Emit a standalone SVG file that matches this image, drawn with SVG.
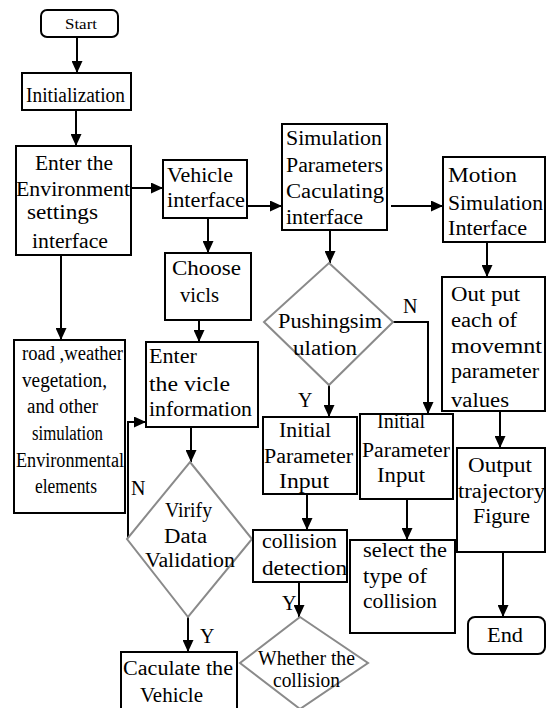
<svg xmlns="http://www.w3.org/2000/svg" width="546" height="708" viewBox="0 0 546 708">
<style>
.b{fill:#fff;stroke:#000;stroke-width:2}
.d{fill:#fff;stroke:#8a8a8a;stroke-width:2}
.c{fill:none;stroke:#000;stroke-width:2}
text{font-family:"Liberation Serif","Times New Roman",serif;font-size:20px;fill:#000}
.s{font-size:14px}
</style>
<defs>
<marker id="ah" markerUnits="userSpaceOnUse" markerWidth="12" markerHeight="11" refX="12" refY="5.5" orient="auto">
<path d="M0,0 L12,5.5 L0,11 z" fill="#000"/>
</marker>
</defs>
<rect width="546" height="708" fill="#fff"/>
<g id="connectors">
<line class="c" x1="77" y1="37" x2="77" y2="73" marker-end="url(#ah)"/>
<line class="c" x1="76" y1="110" x2="76" y2="146" marker-end="url(#ah)"/>
<line class="c" x1="131" y1="188" x2="163" y2="188" marker-end="url(#ah)"/>
<line class="c" x1="247" y1="206" x2="282" y2="206" marker-end="url(#ah)"/>
<line class="c" x1="391" y1="206" x2="443" y2="206" marker-end="url(#ah)"/>
<line class="c" x1="487" y1="242" x2="487" y2="277" marker-end="url(#ah)"/>
<line class="c" x1="330" y1="230" x2="330" y2="263" marker-end="url(#ah)"/>
<line class="c" x1="208" y1="218" x2="208" y2="253" marker-end="url(#ah)"/>
<line class="c" x1="199" y1="320" x2="199" y2="342" marker-end="url(#ah)"/>
<line class="c" x1="61" y1="255" x2="61" y2="340" marker-end="url(#ah)"/>
<line class="c" x1="191" y1="427" x2="191" y2="462" marker-end="url(#ah)"/>
<polyline class="c" points="128,539 128,422 146,422" marker-end="url(#ah)"/>
<line class="c" x1="188" y1="617" x2="188" y2="652" marker-end="url(#ah)"/>
<line class="c" x1="329" y1="385" x2="329" y2="417" marker-end="url(#ah)"/>
<polyline class="c" points="393,322 428,322 428,414" marker-end="url(#ah)"/>
<line class="c" x1="307" y1="494" x2="307" y2="530" marker-end="url(#ah)"/>
<line class="c" x1="299" y1="582" x2="299" y2="617" marker-end="url(#ah)"/>
<line class="c" x1="407" y1="499" x2="407" y2="540" marker-end="url(#ah)"/>
<line class="c" x1="500" y1="411" x2="500" y2="448" marker-end="url(#ah)"/>
<line class="c" x1="503" y1="552" x2="503" y2="617" marker-end="url(#ah)"/>
<text x="131" y="495">N</text>
<text x="200" y="643">Y</text>
<text x="282" y="610">Y</text>
<text x="298" y="407">Y</text>
<text x="403" y="313">N</text>
</g>
<g id="start">
<rect class="b" x="41" y="10" width="77" height="27" rx="6"/>
<text class="s" x="65" y="29" textLength="32" lengthAdjust="spacingAndGlyphs">Start</text>
</g>
<g id="init">
<rect class="b" x="22" y="73" width="109" height="37"/>
<text x="26" y="102" textLength="99" lengthAdjust="spacingAndGlyphs">Initialization</text>
</g>
<g id="env">
<rect class="b" x="16" y="146" width="115" height="109"/>
<text x="35" y="170" textLength="78" lengthAdjust="spacingAndGlyphs">Enter the</text>
<text x="16" y="196" textLength="114" lengthAdjust="spacingAndGlyphs">Environment</text>
<text x="27" y="219" textLength="71" lengthAdjust="spacingAndGlyphs">settings</text>
<text x="32" y="248" textLength="76" lengthAdjust="spacingAndGlyphs">interface</text>
</g>
<g id="vehicle">
<rect class="b" x="163" y="160" width="84" height="58"/>
<text x="167" y="182" textLength="66" lengthAdjust="spacingAndGlyphs">Vehicle</text>
<text x="167" y="207" textLength="78" lengthAdjust="spacingAndGlyphs">interface</text>
</g>
<g id="simparams">
<rect class="b" x="282" y="124" width="105" height="106"/>
<text x="286" y="145" textLength="96" lengthAdjust="spacingAndGlyphs">Simulation</text>
<text x="286" y="172" textLength="97" lengthAdjust="spacingAndGlyphs">Parameters</text>
<text x="286" y="198" textLength="98" lengthAdjust="spacingAndGlyphs">Caculating</text>
<text x="286" y="224" textLength="77" lengthAdjust="spacingAndGlyphs">interface</text>
</g>
<g id="motion">
<rect class="b" x="443" y="157" width="102" height="85"/>
<text x="448" y="182" textLength="69" lengthAdjust="spacingAndGlyphs">Motion</text>
<text x="448" y="210" textLength="95" lengthAdjust="spacingAndGlyphs">Simulation</text>
<text x="448" y="235" textLength="79" lengthAdjust="spacingAndGlyphs">Interface</text>
</g>
<g id="choose">
<rect class="b" x="165" y="253" width="86" height="67"/>
<text x="172" y="275" textLength="69" lengthAdjust="spacingAndGlyphs">Choose</text>
<text x="180" y="302" textLength="39" lengthAdjust="spacingAndGlyphs">vicls</text>
</g>
<g id="entervicle">
<rect class="b" x="146" y="342" width="112" height="85"/>
<text x="149" y="363" textLength="48" lengthAdjust="spacingAndGlyphs">Enter</text>
<text x="149" y="391" textLength="81" lengthAdjust="spacingAndGlyphs">the  vicle</text>
<text x="149" y="416" textLength="103" lengthAdjust="spacingAndGlyphs">information</text>
</g>
<g id="road">
<rect class="b" x="14" y="340" width="111" height="173"/>
<text x="22" y="360" textLength="101" lengthAdjust="spacingAndGlyphs">road ,weather</text>
<text x="22" y="387" textLength="85" lengthAdjust="spacingAndGlyphs">vegetation,</text>
<text x="27" y="413" textLength="71" lengthAdjust="spacingAndGlyphs">and  other</text>
<text x="32" y="440" textLength="71" lengthAdjust="spacingAndGlyphs">simulation</text>
<text x="16" y="467" textLength="108" lengthAdjust="spacingAndGlyphs">Environmental</text>
<text x="35" y="493" textLength="62" lengthAdjust="spacingAndGlyphs">elements</text>
</g>
<g id="pushing">
<polygon class="d" points="329,263 393,322 329,385 264,322"/>
<text x="278" y="328" textLength="104" lengthAdjust="spacingAndGlyphs">Pushingsim</text>
<text x="293" y="355" textLength="64" lengthAdjust="spacingAndGlyphs">ulation</text>
</g>
<g id="initparam1">
<rect class="b" x="263" y="417" width="94" height="77"/>
<text x="279" y="437" textLength="52" lengthAdjust="spacingAndGlyphs">Initial</text>
<text x="264" y="463" textLength="89" lengthAdjust="spacingAndGlyphs">Parameter</text>
<text x="279" y="488" textLength="50" lengthAdjust="spacingAndGlyphs">Input</text>
</g>
<g id="initparam2">
<rect class="b" x="360" y="414" width="93" height="85"/>
<text x="377" y="428" textLength="48" lengthAdjust="spacingAndGlyphs">Initial</text>
<text x="362" y="457" textLength="88" lengthAdjust="spacingAndGlyphs">Parameter</text>
<text x="377" y="482" textLength="48" lengthAdjust="spacingAndGlyphs">Input</text>
</g>
<g id="output">
<rect class="b" x="442" y="277" width="103" height="134"/>
<text x="451" y="301" textLength="69" lengthAdjust="spacingAndGlyphs">Out put</text>
<text x="451" y="327" textLength="66" lengthAdjust="spacingAndGlyphs">each of</text>
<text x="451" y="353" textLength="91" lengthAdjust="spacingAndGlyphs">movemnt</text>
<text x="451" y="378" textLength="88" lengthAdjust="spacingAndGlyphs">parameter</text>
<text x="451" y="407" textLength="58" lengthAdjust="spacingAndGlyphs">values</text>
</g>
<g id="trajectory">
<rect class="b" x="457" y="448" width="88" height="104"/>
<text x="468" y="472" textLength="64" lengthAdjust="spacingAndGlyphs">Output</text>
<text x="458" y="498" textLength="87" lengthAdjust="spacingAndGlyphs">trajectory</text>
<text x="473" y="523" textLength="57" lengthAdjust="spacingAndGlyphs">Figure</text>
</g>
<g id="verify">
<polygon class="d" points="190,462 252,539 188,617 127,539"/>
<text x="165" y="517" textLength="47" lengthAdjust="spacingAndGlyphs">Virify</text>
<text x="164" y="543" textLength="43" lengthAdjust="spacingAndGlyphs">Data</text>
<text x="145" y="567" textLength="90" lengthAdjust="spacingAndGlyphs">Validation</text>
</g>
<g id="collisiondet">
<rect class="b" x="253" y="530" width="94" height="52"/>
<text x="262" y="548" textLength="75" lengthAdjust="spacingAndGlyphs">collision</text>
<text x="262" y="575" textLength="85" lengthAdjust="spacingAndGlyphs">detection</text>
</g>
<g id="selecttype">
<rect class="b" x="350" y="540" width="105" height="93"/>
<text x="363" y="557" textLength="84" lengthAdjust="spacingAndGlyphs">select the</text>
<text x="363" y="583" textLength="64" lengthAdjust="spacingAndGlyphs">type of</text>
<text x="363" y="608" textLength="74" lengthAdjust="spacingAndGlyphs">collision</text>
</g>
<g id="whether">
<polygon class="d" points="300,617 368,663 300,709 240,663"/>
<text x="258" y="665" textLength="97" lengthAdjust="spacingAndGlyphs">Whether the</text>
<text x="273" y="687" textLength="67" lengthAdjust="spacingAndGlyphs">collision</text>
</g>
<g id="caculate">
<rect class="b" x="121" y="652" width="116" height="60"/>
<text x="123" y="675" textLength="110" lengthAdjust="spacingAndGlyphs">Caculate the</text>
<text x="140" y="702" textLength="63" lengthAdjust="spacingAndGlyphs">Vehicle</text>
</g>
<g id="end">
<rect class="b" x="468" y="617" width="77" height="37" rx="7"/>
<text x="487" y="642" textLength="36" lengthAdjust="spacingAndGlyphs">End</text>
</g>
</svg>
